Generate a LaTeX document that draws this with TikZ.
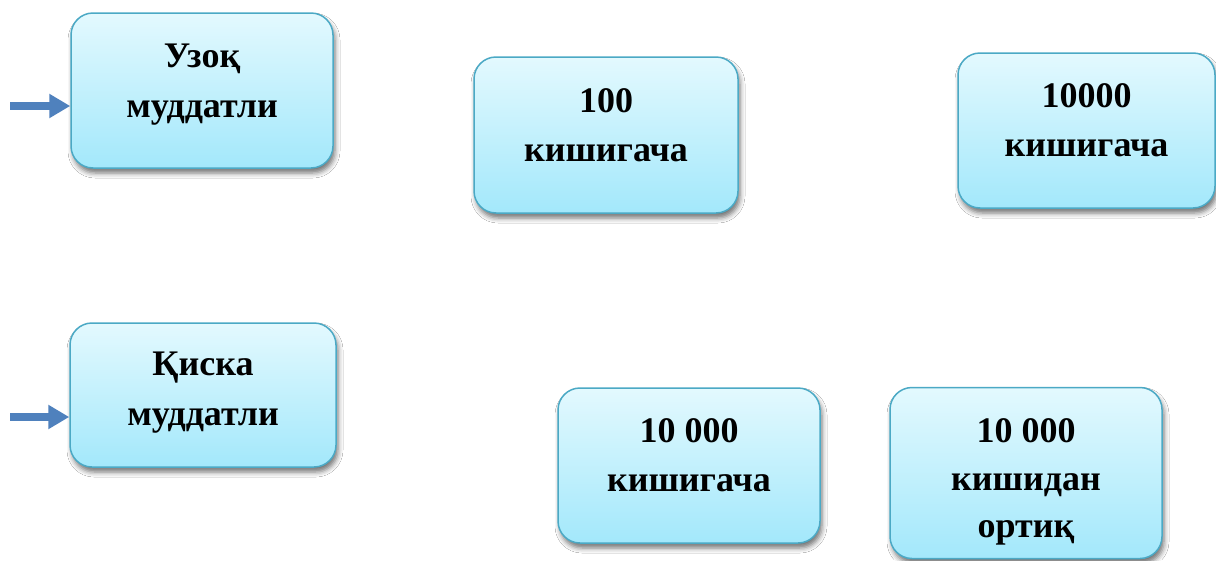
\documentclass[tikz,border=0pt]{standalone}
\usepackage{fontspec}
\setmainfont{Liberation Serif}
\usetikzlibrary{arrows.meta,shadows.blur}
\definecolor{boxtop}{HTML}{E3F9FE}
\definecolor{boxbot}{HTML}{A3E8FB}
\definecolor{boxline}{HTML}{4BA9C5}
\definecolor{arrowblue}{HTML}{4F81BD}
\tikzset{
  infobox/.style={draw=boxline, line width=1.5pt, rounded corners=22pt,
    top color=boxtop, bottom color=boxbot, inner sep=0pt,
    blur shadow={shadow xshift=2pt, shadow yshift=-5pt, shadow blur radius=5pt, shadow opacity=55}},
  boxtext/.style={anchor=base, inner sep=0pt, font=\fontsize{36}{49}\selectfont\bfseries, text=black},
  feedarrow/.style={draw=arrowblue, line width=8pt,
    -{Triangle[width=23pt,length=21pt]}}
}
\begin{document}
\begin{tikzpicture}[x=1pt,y=-1pt]
\useasboundingbox[fill=white] (0,0) rectangle (1216,560);
% boxes
\node[infobox, minimum width=262pt, minimum height=155pt] (b1) at (202,90.5) {};
\node[infobox, minimum width=264pt, minimum height=156pt] (b2) at (606,135) {};
\node[infobox, minimum width=257pt, minimum height=155pt] (b3) at (1086.5,130.5) {};
\node[infobox, minimum width=266pt, minimum height=144pt] (b4) at (203,395) {};
\node[infobox, minimum width=262pt, minimum height=155pt] (b5) at (689,465.5) {};
\node[infobox, minimum width=272pt, minimum height=171pt] (b6) at (1026,473) {};
% texts
\node[boxtext] (t1a) at (202,67) {Узоқ};
\node[boxtext] (t1b) at (202,117) {муддатли};
\node[boxtext] (t2a) at (606,112) {100};
\node[boxtext] (t2b) at (606,161) {кишигача};
\node[boxtext] (t3a) at (1086.5,107) {10000};
\node[boxtext] (t3b) at (1086.5,156) {кишигача};
\node[boxtext] (t4a) at (203,375) {Қиска};
\node[boxtext] (t4b) at (203,425) {муддатли};
\node[boxtext] (t5a) at (689,442) {10 000};
\node[boxtext] (t5b) at (689,491) {кишигача};
\node[boxtext] (t6a) at (1026,442) {10 000};
\node[boxtext] (t6b) at (1026,490) {кишидан};
\node[boxtext] (t6c) at (1026,537) {ортиқ};
% arrows
\coordinate (a1) at (10,106);
\coordinate (a2) at (10,417);
\draw[feedarrow] (a1) -- (a1 -| b1.west);
\draw[feedarrow] (a2) -- (a2 -| b4.west);
\end{tikzpicture}
\end{document}
